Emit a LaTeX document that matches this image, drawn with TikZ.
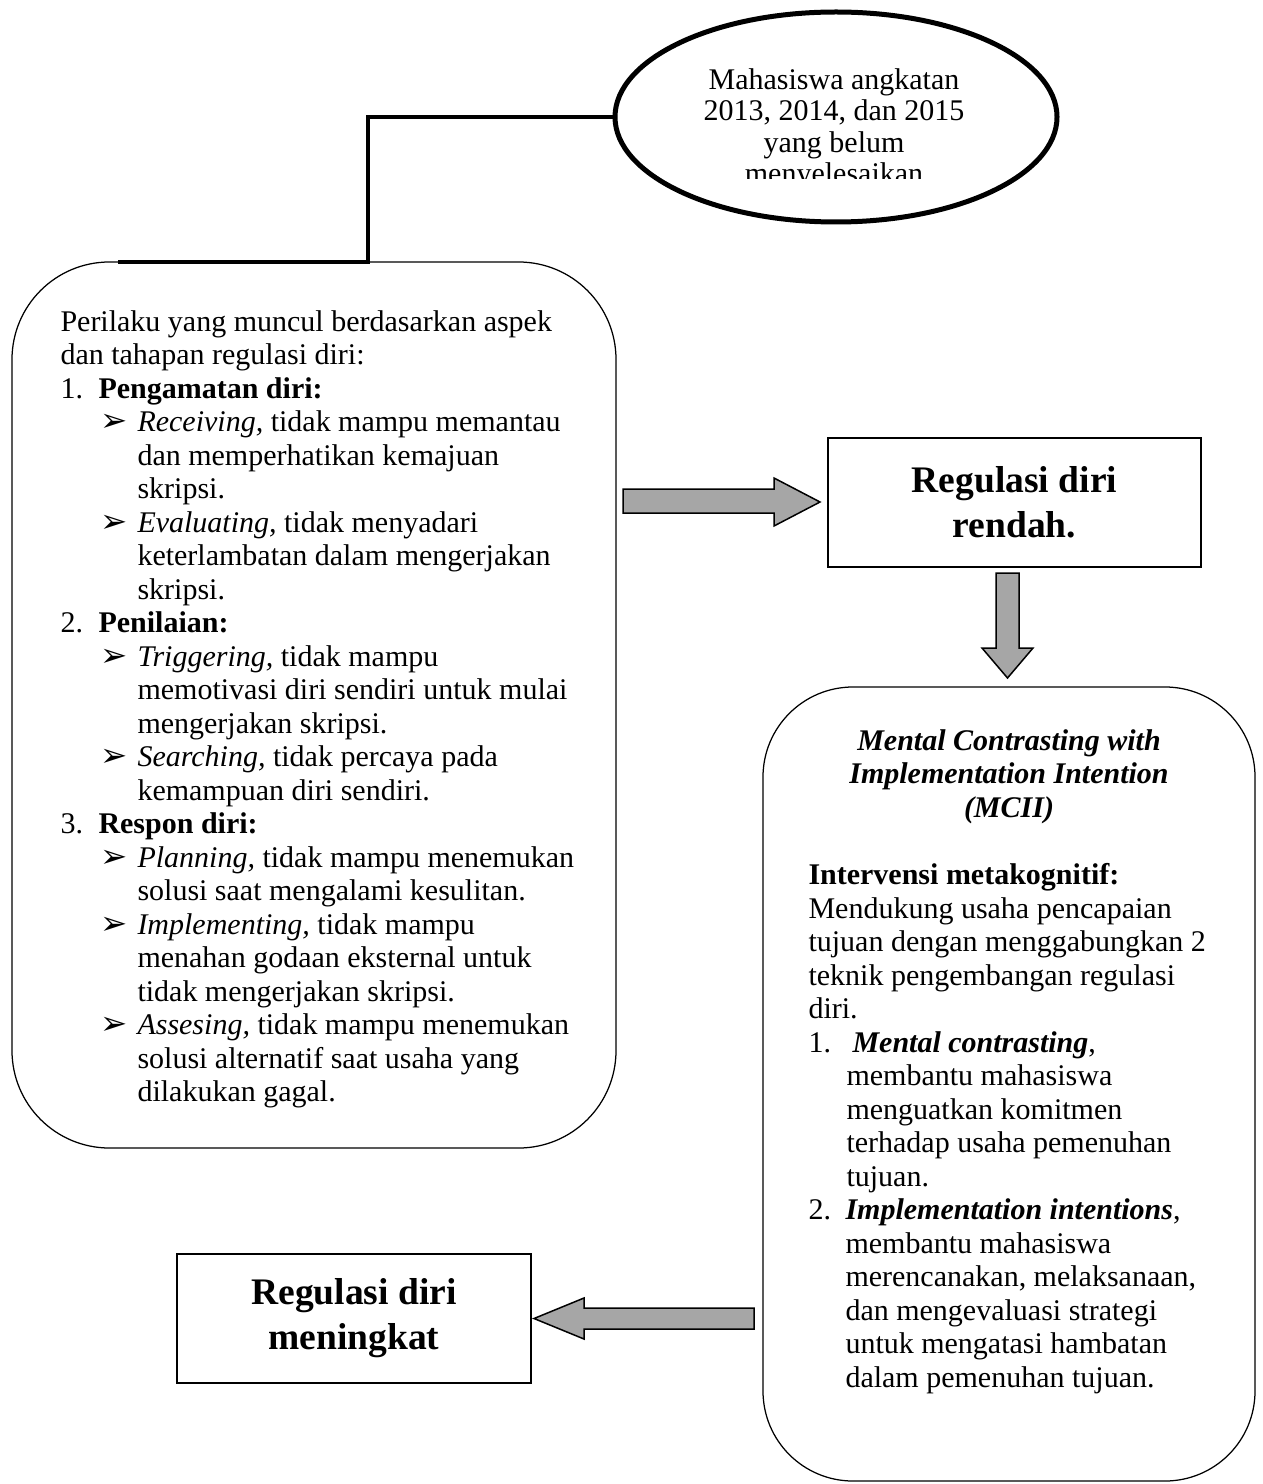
\documentclass[tikz,border=0pt]{standalone}
\usepackage{fontspec}
\setmainfont{Liberation Serif}
\newfontfamily\dejavu{DejaVu Sans}
\usetikzlibrary{shapes.geometric}
\definecolor{arrowgray}{RGB}{166,166,166}
\newcommand{\arw}{{\dejavu\fontsize{13}{13}\selectfont ➢}}
\newcommand{\numitem}[1]{\makebox[15.2pt][l]{#1}}
\newcommand{\bulitem}{\hspace*{16pt}\makebox[14.8pt][l]{\arw}}
\newcommand{\contline}{\hspace*{30.8pt}}

\begin{document}
\begin{tikzpicture}[x=0.4pt, y=-0.4pt,
    every node/.style={font=\fontsize{12}{13.4}\selectfont, inner sep=0pt},
    thinbox/.style={draw, line width=0.5pt},
    title/.style={font=\fontsize{15}{18}\selectfont\bfseries, align=center},
    blockarrow/.style={draw, line width=0.6pt, fill=arrowgray, line join=miter},
    link/.style={line width=1.3pt}]
    \useasboundingbox (0,0) rectangle (1262,1484);
    % top ellipse
    \node[ellipse, draw, line width=2pt, minimum width=176.8pt, minimum height=84pt] (cohort) at (836,117) {};
    \begin{scope}
        \clip (640,40) rectangle (1030,179);
        \node[anchor=north, align=center, font=\fontsize{12}{12.6}\selectfont] (cohorttxt) at (834,68)
            {Mahasiswa angkatan\\2013, 2014, dan 2015\\yang belum\\menyelesaikan};
    \end{scope}
    % behaviour box
    \node[thinbox, rounded corners=39pt, minimum width=241.6pt, minimum height=354.4pt] (behav) at (314,705) {};
    \coordinate (elbow) at (368,262);
    \coordinate (tail) at (118,262);
    \draw[link] (cohort.west) -| (elbow) -- (tail);
    \node[anchor=north west, align=left] (behavtxt) at (60,310) {%
        Perilaku yang muncul berdasarkan aspek\\
        dan tahapan regulasi diri:\\
        \numitem{1.}\textbf{Pengamatan diri:}\\
        \bulitem\textit{Receiving,} tidak mampu memantau\\
        \contline dan memperhatikan kemajuan\\
        \contline skripsi.\\
        \bulitem\textit{Evaluating,} tidak menyadari\\
        \contline keterlambatan dalam mengerjakan\\
        \contline skripsi.\\
        \numitem{2.}\textbf{Penilaian:}\\
        \bulitem\textit{Triggering,} tidak mampu\\
        \contline memotivasi diri sendiri untuk mulai\\
        \contline mengerjakan skripsi.\\
        \bulitem\textit{Searching,} tidak percaya pada\\
        \contline kemampuan diri sendiri.\\
        \numitem{3.}\textbf{Respon diri:}\\
        \bulitem\textit{Planning,} tidak mampu menemukan\\
        \contline solusi saat mengalami kesulitan.\\
        \bulitem\textit{Implementing,} tidak mampu\\
        \contline menahan godaan eksternal untuk\\
        \contline tidak mengerjakan skripsi.\\
        \bulitem\textit{Assesing,} tidak mampu menemukan\\
        \contline solusi alternatif saat usaha yang\\
        \contline dilakukan gagal.};
    % result boxes
    \node[thinbox, title, minimum width=149.2pt, minimum height=51.6pt] (low) at (1014.5,502.5) {Regulasi diri\\rendah.};
    \node[thinbox, title, minimum width=141.6pt, minimum height=51.6pt] (high) at (354,1318.5) {Regulasi diri\\meningkat};
    % MCII box
    \node[thinbox, rounded corners=36pt, minimum width=196.8pt, minimum height=317.6pt] (mcii) at (1009,1084) {};
    \node[anchor=north, align=center, font=\fontsize{12}{13.4}\selectfont\bfseries\itshape] (mciititle) at (1009,729)
        {Mental Contrasting with\\Implementation Intention\\(MCII)};
    \node[anchor=north west, align=left] (mciitxt) at (808,863) {%
        \textbf{Intervensi metakognitif:}\\
        Mendukung usaha pencapaian\\
        tujuan dengan menggabungkan 2\\
        teknik pengembangan regulasi\\
        diri.\\
        \numitem{1.}\hspace{2.4pt}\textbf{\textit{Mental contrasting}},\\
        \hspace*{15.2pt}membantu mahasiswa\\
        \hspace*{15.2pt}menguatkan komitmen\\
        \hspace*{15.2pt}terhadap usaha pemenuhan\\
        \hspace*{15.2pt}tujuan.\\
        \makebox[14.8pt][l]{2.}\textbf{\textit{Implementation intentions}},\\
        \hspace*{14.8pt}membantu mahasiswa\\
        \hspace*{14.8pt}merencanakan, melaksanaan,\\
        \hspace*{14.8pt}dan mengevaluasi strategi\\
        \hspace*{14.8pt}untuk mengatasi hambatan\\
        \hspace*{14.8pt}dalam pemenuhan tujuan.};
    % block arrows
    \draw[blockarrow] (623,489) -- (774,489) -- (774,478) -- (820,502) -- (774,526) -- (774,513) -- (623,513) -- cycle;
    \draw[blockarrow] (996,573) -- (1019,573) -- (1019,648) -- (1033,648) -- (1007.5,678) -- (982,648) -- (996,648) -- cycle;
    \draw[blockarrow] (754,1308) -- (584,1308) -- (584,1298) -- (534,1318.5) -- (584,1339) -- (584,1329) -- (754,1329) -- cycle;
\end{tikzpicture}
\end{document}
